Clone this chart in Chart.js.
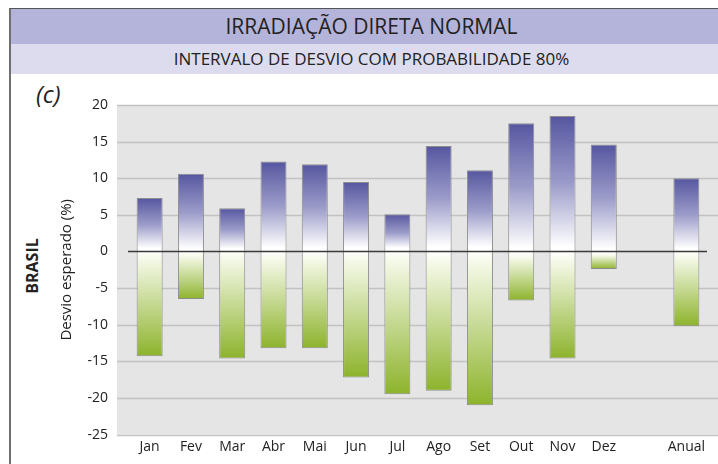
<!DOCTYPE html>
<html>
<head>
<meta charset="utf-8">
<script src="https://cdn.jsdelivr.net/npm/chart.js@4.4.1/dist/chart.umd.min.js"></script>
<style>
    body { margin: 0; width: 718px; height: 464px; background: #fff; overflow: hidden; position: relative; font-family: 'Open Sans', sans-serif; color: #222; }
    .frame { position: absolute; left: 9px; top: 8px; width: 720px; height: 470px; border-left: 2px solid #6f6f6f; border-top: 1px solid #555; }
    .band1 { position: absolute; left: 11px; top: 9px; width: 707px; height: 35px; background: #b4b4da; text-align: center; line-height: 35px; font-size: 21px; padding-left: 14px; box-sizing: border-box; }
    .band2 { position: absolute; left: 11px; top: 44px; width: 707px; height: 30px; background: #dcdcee; text-align: center; line-height: 30px; font-size: 17px; padding-left: 14px; box-sizing: border-box; }
    .panel { position: absolute; left: 36px; top: 77px; font-size: 24px; font-style: italic; }
    .region { position: absolute; left: 32px; top: 266px; font-size: 16px; font-weight: bold; transform: translate(-50%, -50%) rotate(-90deg); white-space: nowrap; }
    #wrap { position: absolute; left: 0; top: 74px; width: 718px; height: 390px; }
</style>
</head>
<body>
<div class="frame"></div>
<div class="band1">IRRADIAÇÃO DIRETA NORMAL</div>
<div class="band2">INTERVALO DE DESVIO COM PROBABILIDADE 80%</div>
<div class="panel">(c)</div>
<div class="region">BRASIL</div>
<div id="wrap"><canvas id="desvioChart"></canvas></div>
<script>
const categories = ['Jan', 'Fev', 'Mar', 'Abr', 'Mai', 'Jun', 'Jul', 'Ago', 'Set', 'Out', 'Nov', 'Dez', '', 'Anual'];
const upperDev = [7.3, 10.6, 5.9, 12.3, 11.9, 9.5, 5.1, 14.4, 11.1, 17.5, 18.5, 14.6, null, 10.0];
const lowerDev = [-14.3, -6.5, -14.6, -13.2, -13.2, -17.2, -19.5, -19.0, -21.0, -6.7, -14.6, -2.4, null, -10.2];
const yMin = -25, yMax = 20, yStep = 5;

const ranges = categories.map((c, i) => upperDev[i] == null ? null : [lowerDev[i], upperDev[i]]);

// purple above zero fading to white, then white to green below zero
function barGradient(context) {
    const chart = context.chart;
    const v = context.raw;
    if (!chart.chartArea || !v) return '#ccc';
    const y = chart.scales.y;
    const top = y.getPixelForValue(v[1]);
    const bottom = y.getPixelForValue(v[0]);
    const zero = y.getPixelForValue(0);
    const z = (zero - top) / (bottom - top);
    const g = chart.ctx.createLinearGradient(0, top, 0, bottom);
    g.addColorStop(0, '#5656a0');
    g.addColorStop(z * 0.5, '#9c9cca');
    g.addColorStop(Math.max(z - 0.02, 0), '#ffffff');
    g.addColorStop(z, '#ffffff');
    g.addColorStop(Math.min(z + 0.03, 1), '#f8fbee');
    g.addColorStop(1, '#8db32c');
    return g;
}

const plotBackground = {
    id: 'plotBackground',
    beforeDatasetsDraw(chart) {
        const { ctx, chartArea } = chart;
        const y = chart.scales.y;
        ctx.save();
        ctx.fillStyle = '#e5e5e5';
        ctx.fillRect(chartArea.left - 12, chartArea.top, chart.width - chartArea.left + 12, chartArea.bottom - chartArea.top);
        ctx.strokeStyle = '#c2c2c2';
        ctx.lineWidth = 1.5;
        y.ticks.forEach(t => {
            if (t.value === 0) return;
            const py = Math.round(y.getPixelForValue(t.value)) + 0.5;
            ctx.beginPath();
            ctx.moveTo(chartArea.left - 12, py);
            ctx.lineTo(chart.width, py);
            ctx.stroke();
        });
        ctx.restore();
    },
    afterDatasetsDraw(chart) {
        const { ctx, chartArea } = chart;
        const py = Math.round(chart.scales.y.getPixelForValue(0)) + 0.5;
        ctx.save();
        ctx.strokeStyle = '#3a3a3a';
        ctx.lineWidth = 1.5;
        ctx.beginPath();
        ctx.moveTo(chartArea.left - 1, py);
        ctx.lineTo(chartArea.right, py);
        ctx.stroke();
        ctx.restore();
    }
};

new Chart(document.getElementById('desvioChart'), {
    type: 'bar',
    data: {
        labels: categories,
        datasets: [{
            label: 'Desvio',
            data: ranges,
            backgroundColor: barGradient,
            borderColor: '#8c8c8c',
            borderWidth: 1,
            borderSkipped: false,
            categoryPercentage: 1,
            barPercentage: 0.63
        }]
    },
    options: {
        responsive: true,
        maintainAspectRatio: false,
        animation: false,
        layout: { padding: { top: 31, right: 11, left: 0, bottom: 0 } },
        plugins: {
            legend: { display: false },
            tooltip: { enabled: false }
        },
        scales: {
            x: {
                grid: { display: false, drawTicks: false },
                border: { display: false },
                ticks: { color: '#222', padding: 4, maxRotation: 0, minRotation: 0, autoSkip: false, font: { family: 'Open Sans', size: 14 } },
                afterFit(scale) { scale.height = 27; }
            },
            y: {
                min: yMin,
                max: yMax,
                grid: { display: false, drawTicks: false },
                border: { display: false },
                ticks: { stepSize: yStep, color: '#222', padding: 21, font: { family: 'Open Sans', size: 14 } },
                title: {
                    display: true,
                    text: 'Desvio esperado (%)',
                    color: '#222',
                    font: { family: 'Open Sans', size: 15 },
                    padding: { top: 58, bottom: 0 }
                },
                afterFit(scale) { scale.width = 129; }
            }
        }
    },
    plugins: [plotBackground]
});
</script>
</body>
</html>
